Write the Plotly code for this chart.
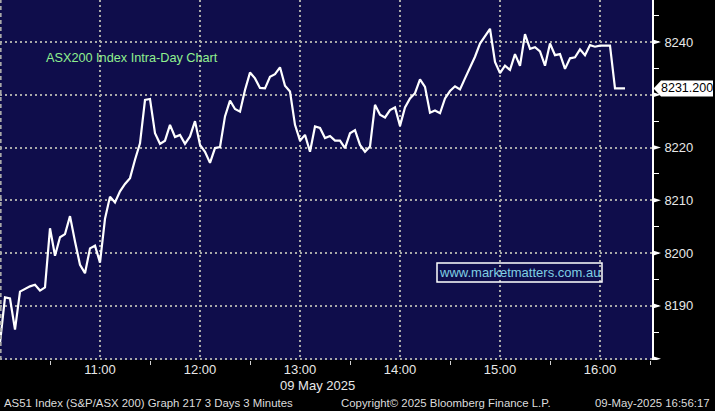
import pandas as pd
import plotly.graph_objects as go

# ---- data ----
start_time = "2025-05-09 10:00"
interval = "3min"
values = [
    8183.0, 8191.6, 8191.4, 8185.5, 8192.7, 8193.2, 8193.7, 8194.0, 8192.9, 8193.5,
    8204.7, 8199.5, 8203.0, 8203.6, 8207.0, 8202.2, 8197.8, 8196.2, 8200.9, 8201.4,
    8198.2, 8206.5, 8210.7, 8209.6, 8211.7, 8213.1, 8214.2, 8217.7, 8220.8, 8229.0,
    8229.2, 8222.7, 8220.7, 8221.3, 8224.3, 8222.0, 8222.4, 8220.7, 8222.1, 8225.0,
    8220.5, 8219.2, 8217.1, 8219.9, 8220.1, 8225.9, 8228.9, 8227.3, 8226.8, 8230.9,
    8234.2, 8233.1, 8231.3, 8231.2, 8233.4, 8233.9, 8235.2, 8231.7, 8230.6, 8224.3,
    8221.3, 8222.4, 8219.2, 8224.0, 8223.7, 8221.8, 8222.2, 8221.3, 8221.3, 8219.9,
    8222.7, 8223.3, 8220.5, 8219.2, 8220.2, 8228.1, 8226.2, 8225.7, 8227.1, 8227.6,
    8224.1, 8227.6, 8229.3, 8230.3, 8232.9, 8231.5, 8226.6, 8227.0, 8226.5, 8229.3,
    8230.7, 8231.6, 8231.0, 8233.1, 8235.1, 8237.2, 8239.7, 8241.2, 8242.5, 8236.2,
    8234.1, 8235.5, 8234.7, 8237.7, 8235.5, 8241.5, 8238.7, 8239.0, 8238.2, 8235.5,
    8239.7, 8237.5, 8237.7, 8234.9, 8236.9, 8237.1, 8238.6, 8237.5, 8239.4, 8239.1,
    8239.3, 8239.3, 8239.3, 8231.2, 8231.2, 8231.2,
]
last_value = 8231.2
last_label = "8231.200"

x_tick_vals = ["2025-05-09 11:00", "2025-05-09 12:00", "2025-05-09 13:00",
               "2025-05-09 14:00", "2025-05-09 15:00", "2025-05-09 16:00"]
x_tick_text = ["11:00", "12:00", "13:00", "14:00", "15:00", "16:00"]
y_tick_vals = [8180, 8190, 8200, 8210, 8220, 8230, 8240]
y_tick_text = ["", "8190", "8200", "8210", "8220", "", "8240"]

title_text = "ASX200 Index Intra-Day Chart"
date_text = "09 May 2025"
footer_left = "AS51 Index (S&P/ASX 200) Graph 217 3 Days 3 Minutes"
footer_mid = "Copyright\u00a9 2025 Bloomberg Finance L.P."
footer_right = "09-May-2025 16:56:17"
watermark = "www.marketmatters.com.au"

times = pd.date_range(start=start_time, periods=len(values), freq=interval)

# ---- style ----
W, H = 715, 411
PL, PT, PW, PH = 0, 0, 652, 360
BG = "#0f0d4b"
GRID = "#a8a8a8"
FONT = "Liberation Sans, Arial, sans-serif"
y_range = [8179.75, 8247.95]

fig = go.Figure()
fig.add_trace(go.Scatter(x=times, y=values, mode="lines",
                         line=dict(color="white", width=2.2), hoverinfo="skip"))

fig.update_layout(
    width=W, height=H,
    margin=dict(l=PL, r=W - PW - PL, t=PT, b=H - PH - PT, pad=0, autoexpand=False),
    paper_bgcolor="black", plot_bgcolor=BG,
    showlegend=False,
    font=dict(family=FONT, color="#e8e8e8", size=13),
)

fig.update_xaxes(
    type="date", automargin=False,
    range=["2025-05-09 10:00:00", "2025-05-09 16:31:12"],
    tickmode="array", tickvals=x_tick_vals, ticktext=x_tick_text,
    ticks="", showgrid=True, gridcolor=GRID, gridwidth=1.6, griddash="2px,3px",
    showline=False, zeroline=False,
    tickfont=dict(size=13, color="#e8e8e8"),
    minor=dict(tick0="2025-05-09 10:30", dtick=3600000, ticks="outside",
               ticklen=4, tickcolor="#d0d0d0", tickwidth=1, showgrid=False),
)
fig.update_yaxes(
    side="right", range=y_range, automargin=False,
    tickmode="array", tickvals=y_tick_vals, ticktext=y_tick_text,
    ticks="outside", ticklen=8, tickcolor="rgba(0,0,0,0)",
    showgrid=True, gridcolor=GRID, gridwidth=1.6, griddash="2px,3px",
    showline=True, linecolor="white", linewidth=1.6, zeroline=False,
    tickfont=dict(size=13, color="#e8e8e8"),
    minor=dict(dtick=5, tick0=8175, ticks="outside", ticklen=5,
               tickcolor="white", tickwidth=1, showgrid=False),
)

shapes = []
# left border dashed
shapes.append(dict(type="line", xref="paper", yref="paper", x0=0.001, x1=0.001, y0=0, y1=1,
                   line=dict(color=GRID, width=2, dash="4px,3px"), layer="above"))
# triangle tick markers on right axis
tri_w = 9 / PW
units_per_px = (y_range[1] - y_range[0]) / PH
for v in y_tick_vals:
    h = 2.8 * units_per_px
    shapes.append(dict(type="path", xref="paper", yref="y",
                       path=f"M 1,{v + h} L {1 + tri_w},{v} L 1,{v - h} Z",
                       fillcolor="white", line=dict(color="white", width=0), layer="above"))
# last value tag
hh = 8 * units_per_px
x_tip = 1 + 1.5 / PW
x_b = 1 + 9 / PW
x_r = 1 + 61 / PW
shapes.append(dict(type="path", xref="paper", yref="y",
                   path=(f"M {x_tip},{last_value} L {x_b},{last_value + hh} L {x_r},{last_value + hh} "
                         f"L {x_r},{last_value - hh} L {x_b},{last_value - hh} Z"),
                   fillcolor="white", line=dict(color="white", width=0), layer="above"))
# watermark box
shapes.append(dict(type="rect", xref="paper", yref="paper",
                   x0=437 / PW, x1=602 / PW, y0=1 - 282 / PH, y1=1 - 263 / PH,
                   line=dict(color="white", width=1.5), fillcolor="rgba(0,0,0,0)", layer="above"))
fig.update_layout(shapes=shapes)

ann = []
ann.append(dict(text=last_label, xref="paper", yref="y", x=(x_b + x_r) / 2, y=last_value,
                showarrow=False, font=dict(size=12.5, color="black", family=FONT),
                xanchor="center", yanchor="middle"))
ann.append(dict(text=title_text, xref="paper", yref="paper", x=44 / PW, y=1 - 58 / PH,
                showarrow=False, font=dict(size=12.7, color="#8ff08f", family=FONT),
                xanchor="left", yanchor="middle"))
ann.append(dict(text=watermark, xref="paper", yref="paper", x=519.5 / PW, y=1 - 272.5 / PH,
                showarrow=False, font=dict(size=13, color="#7fcfe3", family=FONT),
                xanchor="center", yanchor="middle"))
ann.append(dict(text=date_text, xref="paper", yref="paper", x=317.5 / PW, y=(PH - 385) / PH,
                showarrow=False, font=dict(size=13, color="#e8e8e8", family=FONT),
                xanchor="center", yanchor="middle"))
ann.append(dict(text=footer_left, xref="paper", yref="paper", x=2 / PW, y=(PH - 403) / PH,
                showarrow=False, font=dict(size=11.4, color="#dcdcdc", family=FONT),
                xanchor="left", yanchor="middle"))
ann.append(dict(text=footer_mid, xref="paper", yref="paper", x=339 / PW, y=(PH - 403) / PH,
                showarrow=False, font=dict(size=11.4, color="#dcdcdc", family=FONT),
                xanchor="left", yanchor="middle"))
ann.append(dict(text=footer_right, xref="paper", yref="paper", x=712 / PW, y=(PH - 403) / PH,
                showarrow=False, font=dict(size=11.4, color="#dcdcdc", family=FONT),
                xanchor="right", yanchor="middle"))
fig.update_layout(annotations=ann)

fig.write_html("out.html", config={"displayModeBar": False},
               post_script="document.body.style.margin='0px';document.body.style.overflow='hidden';")
